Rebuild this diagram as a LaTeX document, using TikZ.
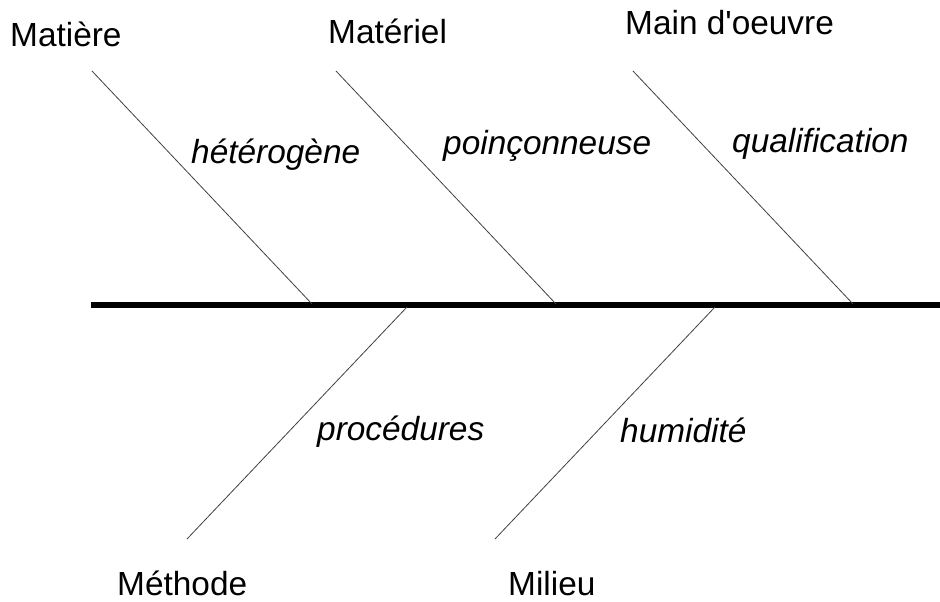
\documentclass[tikz,border=0pt]{standalone}
\usepackage{fontspec}
\setmainfont{Liberation Sans}
\begin{document}
\begin{tikzpicture}[x=1pt,y=-1pt,
  cat/.style={anchor=base west,inner sep=0pt,font=\fontsize{33.4}{38}\selectfont},
  cause/.style={anchor=base west,inner sep=0pt,font=\fontsize{33.4}{38}\selectfont\itshape},
  bone/.style={draw=black!75,line width=0.8pt},
  spine/.style={draw=black,line width=6.5pt}]
\useasboundingbox (0,0) rectangle (940,602);

% main spine
\coordinate (s0) at (91,305);
\coordinate (s1) at (940,305);
\draw[spine] (s0) -- (s1);

% upper bones
\coordinate (t1) at (92,71);   \coordinate (j1) at (312,304);
\coordinate (t2) at (336,71);  \coordinate (j2) at (556,304);
\coordinate (t3) at (633,71);  \coordinate (j3) at (853,304);
\draw[bone] (t1) -- (j1);
\draw[bone] (t2) -- (j2);
\draw[bone] (t3) -- (j3);

% lower bones
\coordinate (j4) at (407,307); \coordinate (b4) at (187,539);
\coordinate (j5) at (715,307); \coordinate (b5) at (495,539);
\draw[bone] (j4) -- (b4);
\draw[bone] (j5) -- (b5);

% category labels
\node[cat] (matiere)  at (10,47)  {Matière};
\node[cat] (materiel) at (328,44) {Matériel};
\node[cat] (main)     at (625,35) {Main d\textquotesingle oeuvre};
\node[cat] (methode)  at (117,595) {Méthode};
\node[cat] (milieu)   at (508,595) {Milieu};

% causes
\node[cause] (hetero) at (191,163) {hétérogène};
\node[cause] (poinc)  at (443,154) {poinçonneuse};
\node[cause] (qualif) at (732,152) {qualification};
\node[cause] (proc)   at (317,440) {procédures};
\node[cause] (humid)  at (620,442) {humidité};
\end{tikzpicture}
\end{document}
